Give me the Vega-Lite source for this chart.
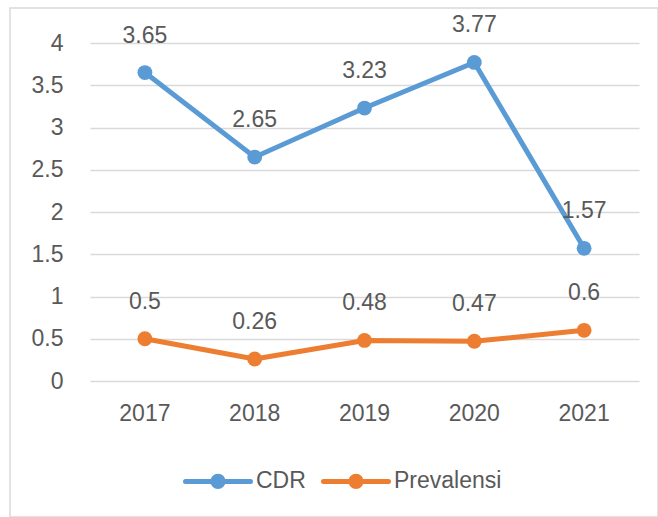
{
  "$schema": "https://vega.github.io/schema/vega-lite/v6.json",
  "autosize": {"type": "none"},
  "width": 648,
  "height": 509,
  "padding": {"left": 10, "top": 8, "right": 0, "bottom": 0},
  "background": "white",
  "config": {
    "view": {"stroke": "#D9D9D9", "strokeWidth": 1.5},
    "font": "Liberation Sans",
    "axis": {"labelColor": "#595959", "labelFont": "Liberation Sans", "labelFontSize": 23, "domain": false, "ticks": false, "title": null}
  },
  "data": {
    "values": [
      {"year": "2017", "series": "CDR", "value": 3.65},
      {"year": "2018", "series": "CDR", "value": 2.65},
      {"year": "2019", "series": "CDR", "value": 3.23},
      {"year": "2020", "series": "CDR", "value": 3.77},
      {"year": "2021", "series": "CDR", "value": 1.57},
      {"year": "2017", "series": "Prevalensi", "value": 0.5},
      {"year": "2018", "series": "Prevalensi", "value": 0.26},
      {"year": "2019", "series": "Prevalensi", "value": 0.48},
      {"year": "2020", "series": "Prevalensi", "value": 0.47},
      {"year": "2021", "series": "Prevalensi", "value": 0.6}
    ]
  },
  "encoding": {
    "x": {
      "field": "year", "type": "ordinal",
      "scale": {"type": "band", "range": [80, 629], "paddingInner": 0, "paddingOuter": 0},
      "axis": {"labelAngle": 0, "grid": false, "offset": -136, "labelPadding": 21, "title": null}
    },
    "y": {
      "field": "value", "type": "quantitative",
      "scale": {"domain": [0, 4], "range": [373, 35], "nice": false, "zero": true},
      "axis": {"values": [0, 0.5, 1, 1.5, 2, 2.5, 3, 3.5, 4], "format": "~g", "grid": true, "gridColor": "#D9D9D9", "gridWidth": 1.5, "offset": -53, "labelPadding": 0, "title": null}
    },
    "color": {
      "field": "series", "type": "nominal",
      "scale": {"domain": ["CDR", "Prevalensi"], "range": ["#5B9BD5", "#ED7D31"]},
      "legend": {
        "title": null,
        "orient": "none",
        "direction": "horizontal",
        "legendX": 173,
        "legendY": 438,
        "padding": 0,
        "symbolType": "M-1,0L1,0M-0.16,0A0.16,0.16 0 1,1 0.16,0A0.16,0.16 0 1,1 -0.16,0Z",
        "symbolSize": 4225,
        "symbolStrokeWidth": 5,
        "labelOffset": 3,
        "columnPadding": 7,
        "labelFontSize": 23,
        "labelColor": "#595959",
        "labelFont": "Liberation Sans",
        "encode": {
          "symbols": {
            "update": {
              "stroke": {"scale": "color", "field": "value"},
              "fill": {"scale": "color", "field": "value"},
              "opacity": {"value": 1},
              "strokeCap": {"value": "round"}
            }
          }
        }
      }
    }
  },
  "layer": [
    {
      "mark": {"type": "line", "strokeWidth": 5, "strokeCap": "round", "strokeJoin": "round", "point": {"filled": true, "size": 220, "opacity": 1}}
    },
    {
      "mark": {"type": "text", "dy": -37, "fontSize": 23, "color": "#595959", "font": "Liberation Sans", "baseline": "middle"},
      "encoding": {
        "text": {"field": "value", "type": "quantitative", "format": ".2~f"},
        "color": {"value": "#595959"}
      }
    }
  ]
}
